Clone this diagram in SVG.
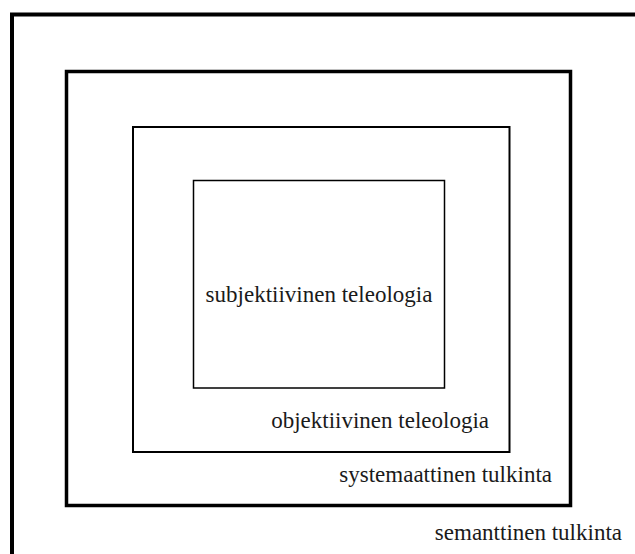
<svg xmlns="http://www.w3.org/2000/svg" width="635" height="554" viewBox="0 0 635 554">
<style>
rect{fill:none;stroke:#000}
text{font-family:"Liberation Serif","Times New Roman",serif;font-size:23px;fill:#1a1a1a}
</style>
<rect x="0" y="0" width="635" height="554" fill="#fff" style="fill:#fff;stroke:none"/>
<g id="semanttinen">
<rect x="12" y="14.5" width="700" height="700" stroke-width="4"/>
<text x="622" y="540" text-anchor="end">semanttinen tulkinta</text>
</g>
<g id="systemaattinen">
<rect x="66.5" y="71.5" width="504" height="434" stroke-width="3.5"/>
<text x="552" y="482" text-anchor="end">systemaattinen tulkinta</text>
</g>
<g id="objektiivinen">
<rect x="133" y="127" width="376.5" height="325" stroke-width="2"/>
<text x="489" y="428" text-anchor="end">objektiivinen teleologia</text>
</g>
<g id="subjektiivinen">
<rect x="193.5" y="180.5" width="251" height="207.5" stroke-width="1.5"/>
<text x="319" y="302" text-anchor="middle">subjektiivinen teleologia</text>
</g>
<g id="connectors"/>
</svg>
